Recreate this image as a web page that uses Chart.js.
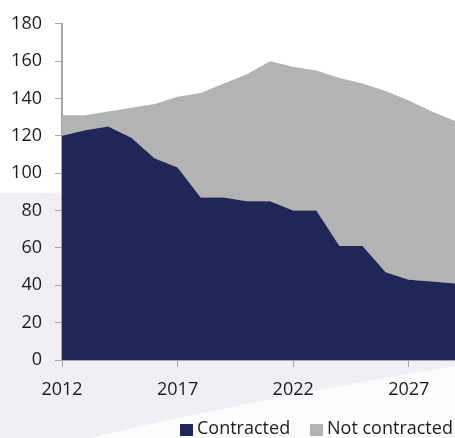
<!DOCTYPE html>
<html>
<head>
<meta charset="utf-8">
<script src="https://cdn.jsdelivr.net/npm/chart.js@4.4.1/dist/chart.umd.min.js"></script>
<style>
  html, body { margin: 0; padding: 0; background: #ffffff; }
  #wrap { width: 455px; height: 438px; position: relative; }
</style>
</head>
<body>
<div id="wrap"><canvas id="myChart" width="455" height="438"></canvas></div>
<script>
const years = [2012, 2013, 2014, 2015, 2016, 2017, 2018, 2019, 2020, 2021, 2022, 2023, 2024, 2025, 2026, 2027, 2028, 2029];
const contracted = [120, 123, 125, 119, 108, 103, 87, 87, 85, 85, 80, 80, 61, 61, 47, 43, 42, 41];
const notContracted = [11, 8, 8, 16, 29, 38, 56, 61, 68, 75, 77, 75, 90, 87, 97, 96, 91, 87];
const yTicks = [0, 20, 40, 60, 80, 100, 120, 140, 160, 180];
const shownYears = [2012, 2017, 2022, 2027];

const fontName = "'Open Sans', sans-serif";
const textColor = "#1c1c1c";

// light grey backdrop with the white swoosh, like the slide behind the chart
const fondo = {
  id: "fondo",
  beforeDraw(chart) {
    const ctx = chart.ctx;
    ctx.save();
    ctx.fillStyle = "#ffffff";
    ctx.fillRect(0, 0, chart.width, chart.height);
    ctx.fillStyle = "#efeff4";
    ctx.beginPath();
    ctx.moveTo(0, 193);
    ctx.lineTo(chart.width, 190);
    ctx.lineTo(chart.width, chart.height);
    ctx.lineTo(0, chart.height);
    ctx.closePath();
    ctx.fill();
    ctx.fillStyle = "#fcfcfd";
    ctx.beginPath();
    ctx.moveTo(90, chart.height);
    ctx.quadraticCurveTo(240, 402, chart.width, 366);
    ctx.lineTo(chart.width, chart.height);
    ctx.closePath();
    ctx.fill();
    ctx.restore();
  }
};

// legend drawn by hand so it sits flush right like the original
const leyenda = {
  id: "leyenda",
  afterDraw(chart) {
    const ctx = chart.ctx;
    const ds = chart.data.datasets;
    const boxes = [180, 310];
    ctx.save();
    ctx.font = "18px " + fontName;
    ctx.textBaseline = "middle";
    ds.forEach((d, i) => {
      ctx.fillStyle = d.backgroundColor;
      ctx.fillRect(boxes[i], 424, 13, 12);
      ctx.fillStyle = textColor;
      ctx.fillText(d.label, boxes[i] + 17, 429);
    });
    ctx.restore();
  }
};

const config = {
  type: "line",
  data: {
    labels: years,
    datasets: [
      {
        label: "Contracted",
        data: contracted,
        backgroundColor: "#1f2759",
        borderColor: "#1f2759",
        borderWidth: 0,
        pointRadius: 0,
        fill: "origin",
        tension: 0
      },
      {
        label: "Not contracted",
        data: notContracted,
        backgroundColor: "#b2b3b5",
        borderColor: "#b2b3b5",
        borderWidth: 0,
        pointRadius: 0,
        fill: "-1",
        tension: 0
      }
    ]
  },
  options: {
    responsive: false,
    animation: false,
    layout: { padding: { top: 17, right: 0, left: 0, bottom: 36 } },
    plugins: {
      legend: { display: false },
      tooltip: { enabled: false }
    },
    scales: {
      x: {
        type: "category",
        offset: false,
        grid: {
          drawOnChartArea: false,
          drawTicks: true,
          tickLength: 7,
          tickColor: (c) => shownYears.includes(years[c.index]) ? "#a6a6a6" : "rgba(0,0,0,0)"
        },
        border: { color: "#a6a6a6", width: 2 },
        ticks: {
          autoSkip: false,
          maxRotation: 0,
          padding: 12,
          color: textColor,
          font: { family: fontName, size: 18 },
          callback: function (val, i) {
            return shownYears.includes(years[i]) ? String(years[i]) : "";
          }
        },
        afterFit: (scale) => {
          scale.height = 42;
          scale.paddingRight = 0;
        }
      },
      y: {
        stacked: true,
        min: 0,
        max: 180,
        afterBuildTicks: (scale) => { scale.ticks = yTicks.map((v) => ({ value: v })); },
        grid: {
          drawOnChartArea: false,
          drawTicks: true,
          tickLength: 7,
          tickColor: "#a6a6a6"
        },
        border: { color: "#a6a6a6", width: 2 },
        ticks: {
          padding: 13,
          color: textColor,
          font: { family: fontName, size: 18 }
        },
        afterFit: (scale) => { scale.width = 62; }
      }
    }
  },
  plugins: [fondo, leyenda]
};

new Chart(document.getElementById("myChart").getContext("2d"), config);
</script>
</body>
</html>
